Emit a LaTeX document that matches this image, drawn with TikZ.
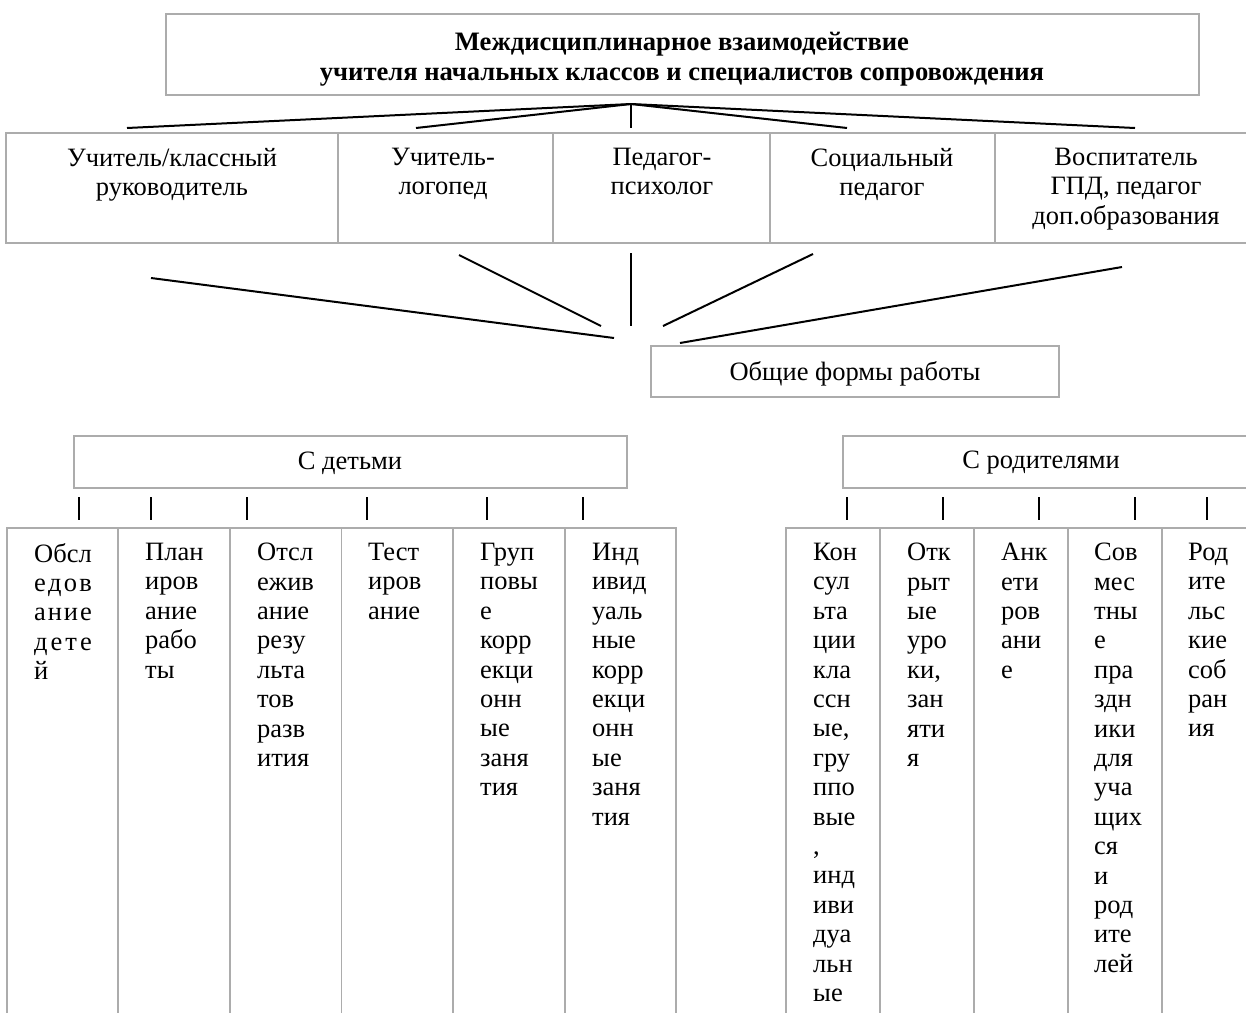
\documentclass[tikz,border=0pt]{standalone}
\usepackage{fontspec}
\usepackage{calc}
\setmainfont{Liberation Serif}
\usetikzlibrary{positioning}

\tikzset{
  frame/.style={draw=gray!65, line width=1.5pt},
  link/.style={black, line width=2pt},
  txt/.style={inner sep=0pt, font=\fontsize{26.5}{29.4}\selectfont},
  cell/.style={txt, anchor=north, align=center},
  col/.style={txt, anchor=north west, align=left},
}
\newcommand{\spr}[1]{\makebox[\widthof{Обсл}][s]{#1}}

\begin{document}
\begin{tikzpicture}[x=1pt, y=-1pt]

        \clip (0,0) rectangle (1246,1012);

        %%% TOP BOX
        
        \draw[frame] (166,14) rectangle (1199,95);
        \node[cell, font=\fontsize{26.6}{30}\selectfont\bfseries] (title) at (682,32)
          {Междисциплинарное взаимодействие\\учителя начальных классов и специалистов сопровождения};
        
        % Fan to the specialists
        \coordinate (hub) at (631,104);
        \foreach \x [count=\i] in {127,416,631,847,1135}
          \coordinate (r\i) at (\x,128);
        \foreach \i in {1,...,5}
          \draw[link] (hub) -- (r\i);
        
        %%% SPECIALISTS ROW
        
        \draw[frame] (6,133) rectangle (1262,243);
        \foreach \x in {338,553,770,995}
          \draw[frame] (\x,133) -- (\x,243);
        
        \node[cell] (teacher) at (172,148) {Учитель/классный\\руководитель};
        \node[cell] (logoped) at (443,148) {Учитель-\\логопед};
        \node[cell] (psych) at (662,148) {Педагог-\\психолог};
        \node[cell] (social) at (882,148) {Социальный\\педагог};
        \node[cell] (tutor) at (1126,148) {Воспитатель\\ГПД, педагог\\доп.образования};
        
        % Lines down to the common forms
        \coordinate (a1) at (151,278);  \coordinate (a2) at (614,338);
        \coordinate (b1) at (459,255);  \coordinate (b2) at (601,326);
        \coordinate (c1) at (631,253);  \coordinate (c2) at (631,326);
        \coordinate (d1) at (813,254);  \coordinate (d2) at (663,326);
        \coordinate (e1) at (1122,267); \coordinate (e2) at (680,343);
        \foreach \p in {a,b,c,d,e}
          \draw[link] (\p1) -- (\p2);
        
        %%% COMMON FORMS
        
        \draw[frame] (651,346) rectangle (1059,397);
        \node[txt] (forms) at (855,374) {Общие формы работы};
        
        \draw[frame] (74,436) rectangle (627,488);
        \node[txt] (kids) at (350,463) {С детьми};
        
        \draw[frame] (843,436) rectangle (1262,488);
        \node[txt] (parents) at (1041,463) {С родителями};
        
        % Stubs
        \foreach \x in {79,151,247,367,487,583,847,943,1039,1135,1207}
          \draw[link] (\x,497) -- (\x,520);
        
        %%% LEFT TABLE (children)
        
        \draw[frame] (7,1020) -- (7,528) -- (676,528) -- (676,1020);
        \foreach \x in {118,230,341.5,453,565}
          \draw[frame] (\x,528) -- (\x,1020);
        
        \node[col] (exam) at (34,543) {Обсл\\\spr{е\hfill д\hfill о\hfill в}\\\spr{а\hfill н\hfill и\hfill е}\\\spr{д\hfill е\hfill т\hfill е}\\й};
        \node[col] (plan) at (145,543) {План\\иров\\ание\\рабо\\ты};
        \node[col] (track) at (257,543) {Отсл\\ежив\\ание\\резу\\льта\\тов\\разв\\ития};
        \node[col] (test) at (368,543) {Тест\\иров\\ание};
        \node[col] (group) at (480,543) {Груп\\повы\\е\\корр\\екци\\онн\\ые\\заня\\тия};
        \node[col] (indiv) at (592,543) {Инд\\ивид\\уаль\\ные\\корр\\екци\\онн\\ые\\заня\\тия};
        
        %%% RIGHT TABLE (parents)
        
        \draw[frame] (786,1020) -- (786,528) -- (1262,528);
        \foreach \x in {880,974,1068,1162}
          \draw[frame] (\x,528) -- (\x,1020);
        
        \node[col] (consult) at (813,543) {Кон\\сул\\ьта\\ции\\кла\\ссн\\ые,\\гру\\ппо\\вые\\,\\инд\\иви\\дуа\\льн\\ые};
        \node[col] (lessons) at (907,543) {Отк\\рыт\\ые\\уро\\ки,\\зан\\яти\\я};
        \node[col] (survey) at (1001,543) {Анк\\ети\\ров\\ани\\е};
        \node[col] (fests) at (1094,543) {Сов\\мес\\тны\\е\\пра\\здн\\ики\\для\\уча\\щих\\ся\\и\\род\\ите\\лей};
        \node[col] (meets) at (1188,543) {Род\\ите\\льс\\кие\\соб\\ран\\ия};

\end{tikzpicture}
\end{document}
